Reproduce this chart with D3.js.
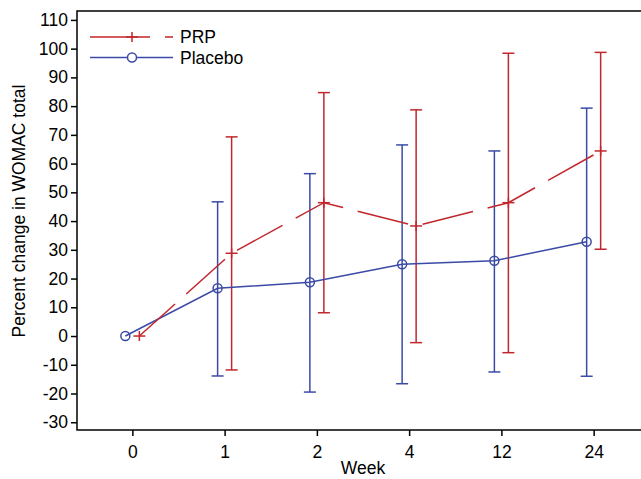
<!DOCTYPE html>
<html><head><meta charset="utf-8">
<script src="https://cdn.jsdelivr.net/npm/d3@7"></script>
<style>
html,body{margin:0;padding:0;background:#fff;}
svg{display:block;font-family:"Liberation Sans",Arial,Helvetica,sans-serif;}
</style></head>
<body><svg id="c" width="641" height="479"></svg>
<script>
const weeks = ["0","1","2","4","12","24"];
const yTicks = [-30,-20,-10,0,10,20,30,40,50,60,70,80,90,100,110];
const prpMean = [0, 28.8, 46.4, 38.3, 46.4, 64.4];
const prpLow  = [null, -11.8, 8.1, -2.3, -5.8, 30.2];
const prpHigh = [null, 69.3, 84.7, 78.7, 98.4, 98.7];
const plcMean = [0, 16.6, 18.7, 25.0, 26.2, 32.8];
const plcLow  = [null, -13.9, -19.5, -16.6, -12.5, -14.0];
const plcHigh = [null, 46.7, 56.5, 66.5, 64.4, 79.3];
const seriesNames = ["PRP", "Placebo"];

const RED = "#c1272d", BLUE = "#3b4aa6";
const svg = d3.select("#c");
const L = 77, T = 11, B = 430;
const x = d3.scaleLinear().domain([-0.6, weeks.length - 0.4]).range([L, 649]);
const y = d3.scaleLinear().domain([-32.7, 113.1]).range([B, T]);
const off = 7;

// frame
svg.append("rect").attr("x", L).attr("y", T).attr("width", x.range()[1] - L).attr("height", B - T)
  .attr("fill", "none").attr("stroke", "#000").attr("stroke-width", 1.5);

// axes
const yAxis = d3.axisLeft(y).tickValues(yTicks).tickFormat(d => String(d)).tickSize(6).tickPadding(3).tickSizeOuter(0);
const gy = svg.append("g").attr("transform", `translate(${L},0)`).call(yAxis);
gy.select(".domain").remove();
gy.selectAll("line").attr("stroke-width", 1.5);
gy.selectAll("text").attr("font-size", 17.5).attr("fill", "#000");

const xAxis = d3.axisBottom(x).tickValues(d3.range(weeks.length)).tickFormat(i => weeks[i]).tickSize(6).tickPadding(10).tickSizeOuter(0);
const gx = svg.append("g").attr("transform", `translate(0,${B})`).call(xAxis);
gx.select(".domain").remove();
gx.selectAll("line").attr("stroke-width", 1.5);
gx.selectAll("text").attr("font-size", 17.5).attr("fill", "#000");

// titles
svg.append("text").attr("x", (L + 649) / 2).attr("y", 474).attr("text-anchor", "middle")
  .attr("font-size", 17.5).text("Week");
svg.append("text").attr("transform", "translate(25,211) rotate(-90)").attr("text-anchor", "middle")
  .attr("font-size", 17.5).text("Percent change in WOMAC total");

// error bars
function errBars(low, high, dx, color) {
  const g = svg.append("g").attr("stroke", color).attr("stroke-width", 1.5).attr("fill", "none");
  weeks.forEach((w, i) => {
    if (low[i] === null) return;
    const cx = x(i) + dx;
    g.append("line").attr("x1", cx).attr("x2", cx).attr("y1", y(low[i])).attr("y2", y(high[i]));
    g.append("line").attr("x1", cx - 6).attr("x2", cx + 6).attr("y1", y(low[i])).attr("y2", y(low[i]));
    g.append("line").attr("x1", cx - 6).attr("x2", cx + 6).attr("y1", y(high[i])).attr("y2", y(high[i]));
  });
}
errBars(plcLow, plcHigh, -off, BLUE);
errBars(prpLow, prpHigh, off, RED);

// placebo line
const line = d3.line().x(d => d[0]).y(d => d[1]);
svg.append("path").attr("d", line(plcMean.map((v, i) => [x(i) - off, y(v)])))
  .attr("fill", "none").attr("stroke", BLUE).attr("stroke-width", 1.5);
svg.append("g").selectAll("circle").data(plcMean).join("circle")
  .attr("cx", (d, i) => x(i) - off).attr("cy", d => y(d)).attr("r", 4.5)
  .attr("fill", "none").attr("stroke", BLUE).attr("stroke-width", 1.5);

// PRP line
svg.append("path").attr("d", line(prpMean.map((v, i) => [x(i) + off, y(v)])))
  .attr("fill", "none").attr("stroke", RED).attr("stroke-width", 1.5)
  .attr("stroke-dasharray", "52,15").attr("stroke-dashoffset", 4);
const pg = svg.append("g").attr("stroke", RED).attr("stroke-width", 1.5);
prpMean.forEach((v, i) => {
  const cx = x(i) + off, cy = y(v);
  pg.append("line").attr("x1", cx - 6).attr("x2", cx + 6).attr("y1", cy).attr("y2", cy);
  pg.append("line").attr("x1", cx).attr("x2", cx).attr("y1", cy - 5).attr("y2", cy + 5);
});

// legend
const lg = svg.append("g");
const legY = [37, 57.5];
lg.append("line").attr("x1", 90).attr("x2", 173).attr("y1", legY[0]).attr("y2", legY[0])
  .attr("stroke", RED).attr("stroke-width", 1.5).attr("stroke-dasharray", "60,15");
lg.append("line").attr("x1", 126).attr("x2", 138).attr("y1", legY[0]).attr("y2", legY[0]).attr("stroke", RED).attr("stroke-width", 1.5);
lg.append("line").attr("x1", 132).attr("x2", 132).attr("y1", legY[0] - 5).attr("y2", legY[0] + 5).attr("stroke", RED).attr("stroke-width", 1.5);
lg.append("line").attr("x1", 90).attr("x2", 173).attr("y1", legY[1]).attr("y2", legY[1])
  .attr("stroke", BLUE).attr("stroke-width", 1.5);
lg.append("circle").attr("cx", 132).attr("cy", legY[1]).attr("r", 4.5)
  .attr("fill", "#fff").attr("stroke", BLUE).attr("stroke-width", 1.5);
seriesNames.forEach((n, i) => {
  lg.append("text").attr("x", 180).attr("y", legY[i]).attr("dy", "0.36em")
    .attr("font-size", 17.5).text(n);
});
</script></body></html>
